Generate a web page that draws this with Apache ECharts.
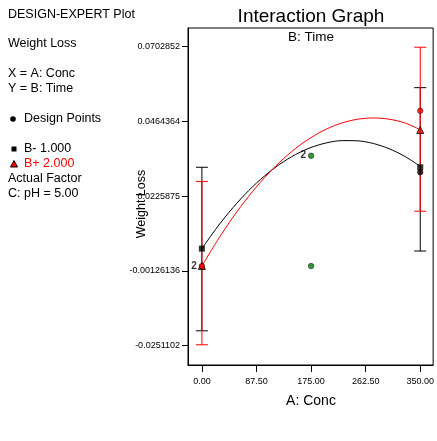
<!DOCTYPE html>
<html><head><meta charset="utf-8">
<script src="https://cdn.jsdelivr.net/npm/echarts@6/dist/echarts.min.js"></script>
<style>html,body{margin:0;padding:0;background:#fff}#c{width:437px;height:441px}</style>
</head><body><div id="c"></div>
<script>
// ---- data ----
const xTicks = [0, 87.5, 175, 262.5, 350];
const yTicks = [-0.0251102, -0.00126136, 0.0225875, 0.0464364, 0.0702852];
const yTickLabels = ["-0.0251102", "-0.00126136", "0.0225875", "0.0464364", "0.0702852"];
const curveX = [0, 25, 50, 75, 100, 125, 150, 175, 200, 225, 250, 275, 300, 325, 350];
const curveBminus = [0.00586, 0.01281, 0.01898, 0.02437, 0.02898, 0.03281, 0.03586, 0.03813,
                     0.03961, 0.04032, 0.04024, 0.03939, 0.03774, 0.03532, 0.03212];
const curveBplus  = [0.00032, 0.00851, 0.01593, 0.02256, 0.02842, 0.03349, 0.03778, 0.04129,
                     0.04403, 0.04598, 0.04715, 0.04754, 0.04715, 0.04598, 0.04380];
// LSD bars: [x, low, high]
const barsBminus = [[0, -0.02035, 0.03181], [350, 0.0051, 0.0572]];
const barsBplus  = [[0, -0.0248, 0.0273], [350, 0.0178, 0.0701]];
// predicted markers at ends
const markBminus = [[0, 0.00586], [350, 0.0318]];
const markBplus  = [[0, 0.00032], [350, 0.0437]];
// design points: [x, y, count]
const designGreen = [[175, 0.0355, 2], [175, 0.0003, 1]];
const designRed   = [[0, 0.0003, 2], [350, 0.0498, 1]];
const designBlack = [[350, 0.0302, 1]];

const chart = echarts.init(document.getElementById('c'));
const FONT = 'Liberation Sans, Arial, sans-serif';

function pairs(xs, ys){ return xs.map((x,i)=>[x, ys[i]]); }
function barSeries(data, color){
  return {
    type:'custom', data: data, z: 2,
    renderItem: function(params, api){
      const x = api.value(0), lo = api.value(1), hi = api.value(2);
      const p1 = api.coord([x, lo]), p2 = api.coord([x, hi]);
      const w = 6;
      const st = {stroke: color, lineWidth: 1};
      return {type:'group', children:[
        {type:'line', shape:{x1:p1[0], y1:p1[1], x2:p2[0], y2:p2[1]}, style: st},
        {type:'line', shape:{x1:p1[0]-w, y1:p1[1], x2:p1[0]+w, y2:p1[1]}, style: st},
        {type:'line', shape:{x1:p2[0]-w, y1:p2[1], x2:p2[0]+w, y2:p2[1]}, style: st}
      ]};
    }
  };
}
function designSeries(data, color){
  return {
    type:'scatter', data: data, symbol:'circle', symbolSize:5.5, z: 6,
    itemStyle:{color: color, borderColor:'#000', borderWidth:0.6},
    label:{show:true, position:'left', distance:2, fontFamily:FONT, fontSize:10, fontWeight:'bold', color:'#000',
      formatter: p => p.value[2] > 1 ? String(p.value[2]) : ''}
  };
}

const leftTexts = [
  ['DESIGN-EXPERT Plot', 8, 15, '#000'],
  ['Weight Loss', 8, 44, '#000'],
  ['X = A: Conc', 8, 74, '#000'],
  ['Y = B: Time', 8, 89, '#000'],
  ['Design Points', 24, 119, '#000'],
  ['B- 1.000', 24, 149, '#000'],
  ['B+ 2.000', 24, 164, '#ff0000'],
  ['Actual Factor', 8, 179, '#000'],
  ['C: pH = 5.00', 8, 194, '#000']
];
const graphics = leftTexts.map(t => ({type:'text', x:t[1], y:t[2],
  style:{text:t[0], fill:t[3], font:'12.5px ' + FONT, textVerticalAlign:'middle'}}));
graphics.push(
  {type:'circle', shape:{cx:13, cy:119, r:2.8}, style:{fill:'#000'}},
  {type:'rect', shape:{x:11.5, y:146.5, width:5, height:5}, style:{fill:'#000'}},
  {type:'polygon', shape:{points:[[14,160.5],[17.5,167],[10.5,167]]}, style:{fill:'#ff0000', stroke:'#000', lineWidth:1}},
  {type:'text', x:311, y:17, style:{text:'Interaction Graph', font:'19px ' + FONT, fill:'#000', textAlign:'center', textVerticalAlign:'middle'}},
  {type:'text', x:311, y:37, style:{text:'B: Time', font:'13.5px ' + FONT, fill:'#000', textAlign:'center', textVerticalAlign:'middle'}},
  {type:'text', x:311, y:401, style:{text:'A: Conc', font:'14px ' + FONT, fill:'#000', textAlign:'center', textVerticalAlign:'middle'}},
  {type:'text', x:142, y:204, rotation:Math.PI/2, style:{text:'Weight Loss', font:'12.5px ' + FONT, fill:'#000', textAlign:'center', textVerticalAlign:'middle'}}
);

chart.setOption({
  animation:false,
  backgroundColor:'#fff',
  grid:{left:188, top:28, width:246, height:337, show:true, borderColor:'#000', borderWidth:1, backgroundColor:'transparent'},
  xAxis:{type:'value', min:-22.27, max:370.7, position:'bottom',
    axisLine:{show:true, onZero:false, lineStyle:{color:'#000'}}, splitLine:{show:false},
    axisTick:{show:true, inside:false, length:7, customValues:xTicks, lineStyle:{color:'#000'}},
    axisLabel:{customValues:xTicks, formatter:v=>Number(v).toFixed(2), fontFamily:FONT, fontSize:9, color:'#000', margin:12}},
  yAxis:{type:'value', min:-0.03125, max:0.07623, position:'left',
    axisLine:{show:true, onZero:false, lineStyle:{color:'#000'}}, splitLine:{show:false},
    axisTick:{show:true, inside:false, length:6, customValues:yTicks, lineStyle:{color:'#000'}},
    axisLabel:{customValues:yTicks, fontFamily:FONT, fontSize:9, color:'#000', margin:8,
      formatter:v=>{ const i = yTicks.findIndex(t=>Math.abs(t-v)<1e-9); return i>=0 ? yTickLabels[i] : ''; }}},
  graphic: graphics,
  series:[
    barSeries(barsBminus, '#000'),
    barSeries(barsBplus, '#ff0000'),
    {type:'line', data:pairs(curveX, curveBminus), smooth:0.3, symbol:'none', z:3, lineStyle:{color:'#000', width:1}},
    {type:'line', data:pairs(curveX, curveBplus), smooth:0.3, symbol:'none', z:3, lineStyle:{color:'#ff0000', width:1}},
    {type:'scatter', data:markBminus, symbol:'rect', symbolSize:6, z:5, itemStyle:{color:'#000'}},
    {type:'scatter', data:markBplus, symbol:'triangle', symbolSize:7, z:5, itemStyle:{color:'#ff0000', borderColor:'#000', borderWidth:1}},
    designSeries(designGreen, '#008000'),
    designSeries(designRed, '#ff0000'),
    designSeries(designBlack, '#000')
  ]
});
</script></body></html>
